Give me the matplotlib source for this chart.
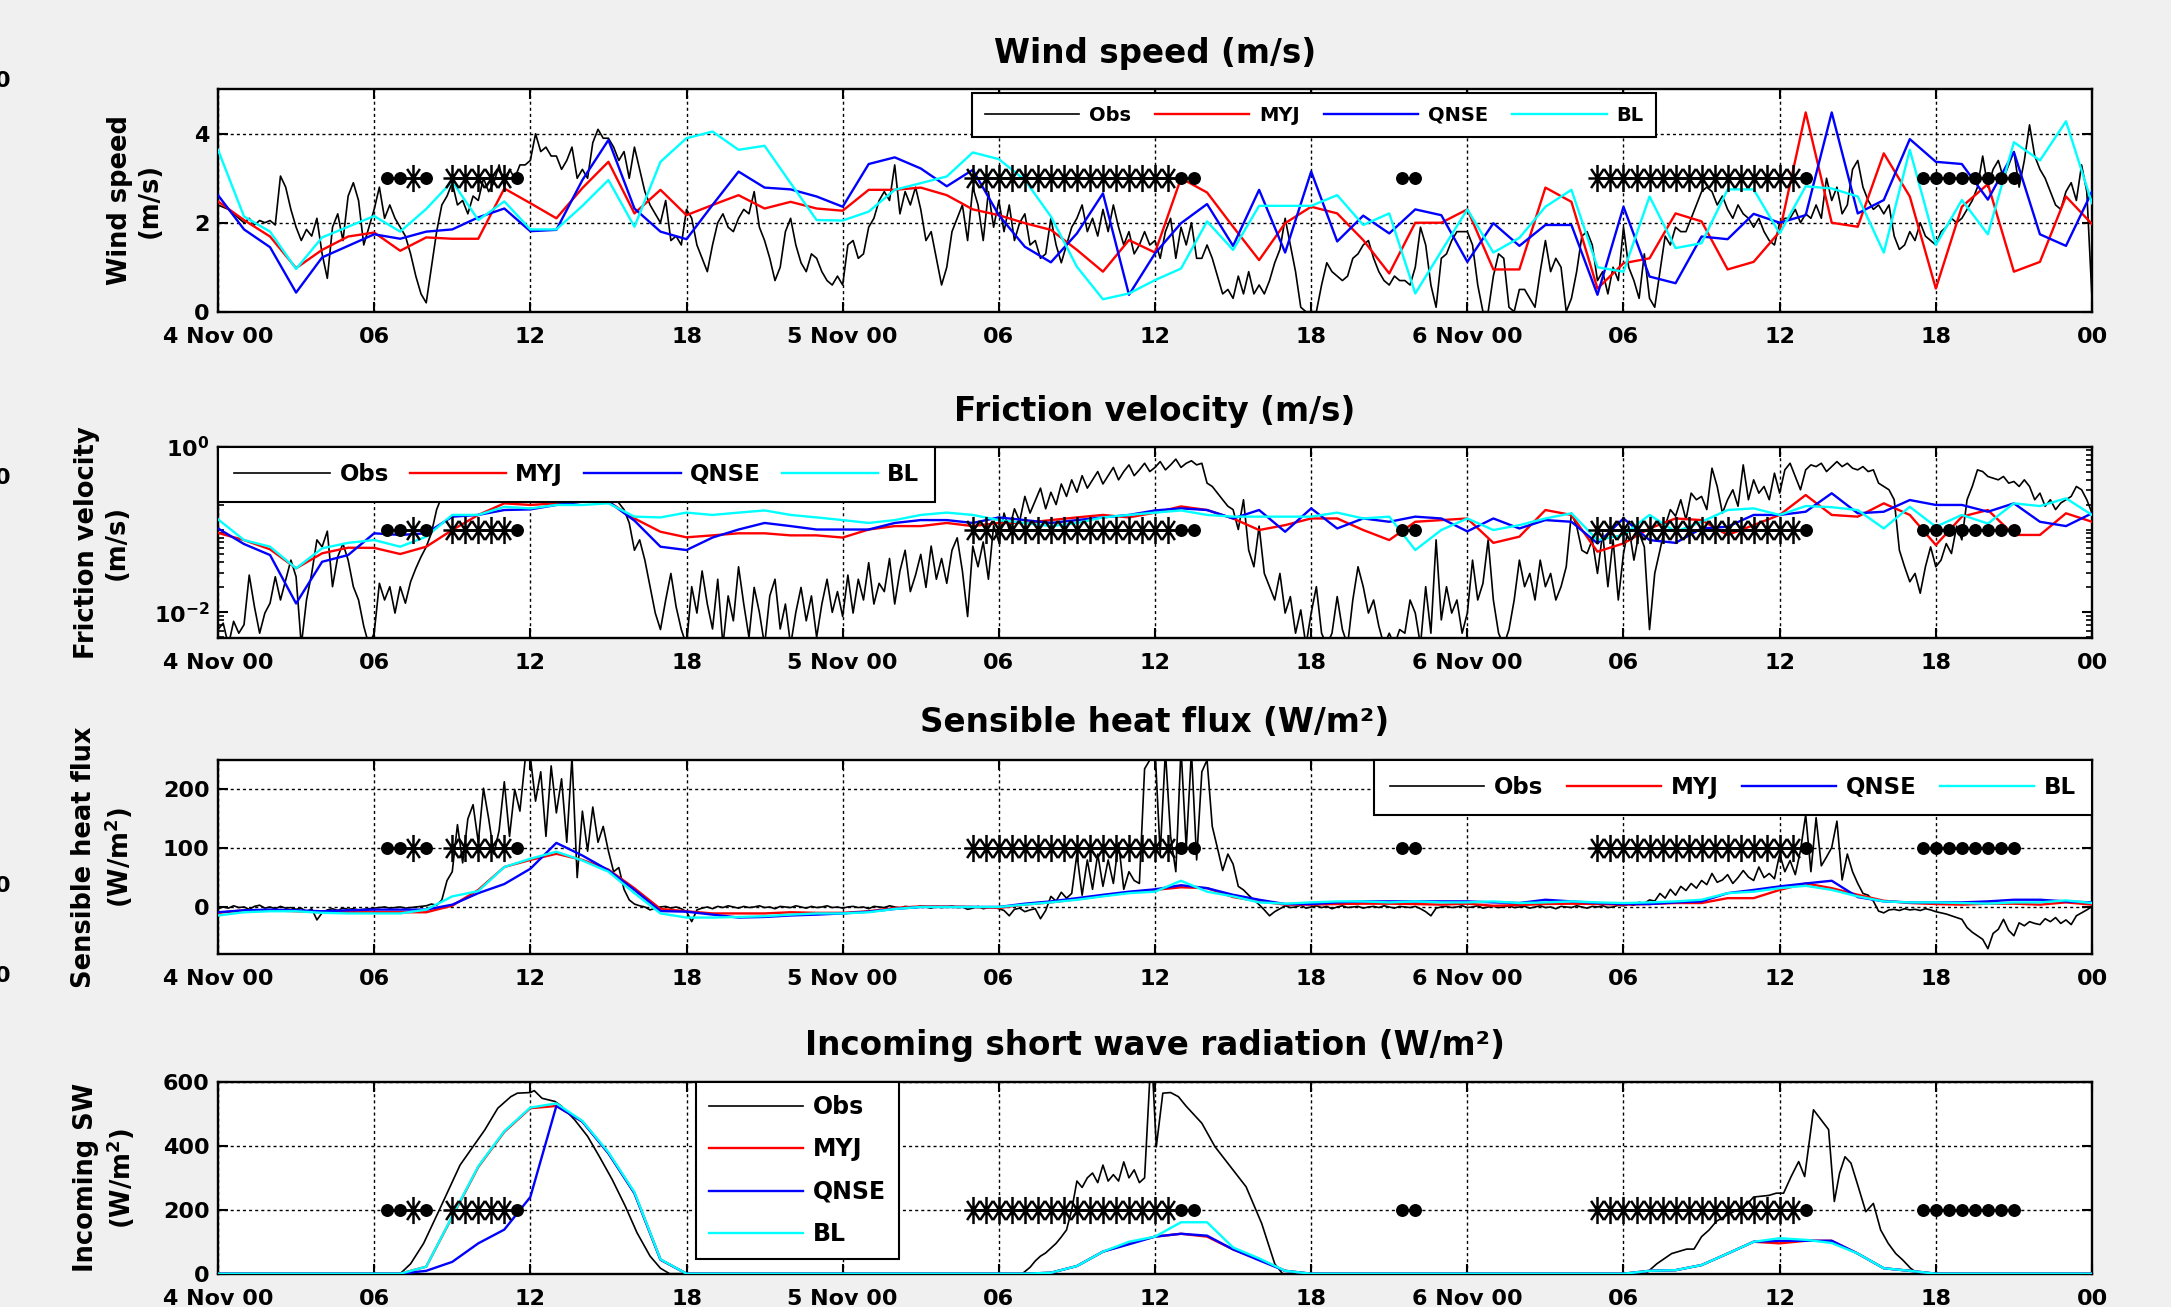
import numpy as np
import matplotlib
matplotlib.use("Agg")
import matplotlib.pyplot as plt
from matplotlib.path import Path
from matplotlib.ticker import FixedLocator, FixedFormatter, LogLocator, NullFormatter

# ------------------------------------------------------------------
# Time axes (hours since 4 Nov 00 UTC)
# ------------------------------------------------------------------
hours_model = np.arange(0, 73)                       # hourly model output
hours_obs = np.round(np.arange(0, 361) * 0.2, 1)     # 12-min observations

x_tick_hours = [0, 6, 12, 18, 24, 30, 36, 42, 48, 54, 60, 66, 72]
x_tick_labels = ["4 Nov 00", "06", "12", "18", "5 Nov 00", "06", "12", "18",
                 "6 Nov 00", "06", "12", "18", "00"]

series_names = ["Obs", "MYJ", "QNSE", "BL"]

# ------------------------------------------------------------------
# Wind speed (m/s)
# ------------------------------------------------------------------
wind_obs = [
    2.4, 2.35, 2.3, 2.2, 2.1, 2.0, 2.1, 1.95, 2.05, 2.0,
    2.05, 1.95, 3.05, 2.8, 2.3, 1.9, 1.6, 1.85, 1.7, 2.1,
    1.3, 0.75, 1.9, 2.2, 1.6, 2.6, 2.9, 2.5, 1.5, 1.9,
    2.3, 2.8, 2.1, 2.4, 2.1, 1.9, 1.7, 1.3, 0.8, 0.4,
    0.2, 1.0, 1.8, 2.4, 2.6, 2.9, 2.4, 2.5, 2.2, 2.6,
    2.5, 3.0, 2.7, 2.9, 3.3, 2.8, 3.2, 3.0, 3.3, 3.3,
    3.4, 4.0, 3.6, 3.7, 3.5, 3.5, 3.2, 3.4, 3.7, 3.0,
    3.2, 3.0, 3.8, 4.1, 3.9, 3.9, 3.7, 3.4, 3.6, 3.0,
    3.7, 3.2, 2.7, 2.4, 2.2, 2.0, 2.5, 1.6, 1.7, 1.5,
    2.3, 2.1, 1.5, 1.2, 0.9, 1.5, 2.0, 2.2, 1.9, 1.8,
    2.1, 2.3, 2.2, 2.7, 1.9, 1.6, 1.2, 0.7, 1.0, 1.8,
    2.1, 1.5, 1.1, 0.9, 1.3, 1.2, 0.9, 0.7, 0.6, 0.8,
    0.6, 1.5, 1.6, 1.2, 1.3, 1.9, 2.1, 2.5, 2.7, 2.5,
    3.3, 2.2, 2.7, 2.4, 2.8, 2.3, 1.6, 1.8, 1.2, 0.6,
    1.0, 1.8, 2.1, 2.4, 1.6, 2.8, 2.4, 1.6, 2.7, 1.9,
    2.5, 1.8, 2.4, 1.6, 2.0, 2.2, 1.5, 1.6, 1.2, 1.3,
    2.1, 1.5, 1.1, 1.5, 1.9, 2.1, 2.4, 1.8, 2.1, 1.7,
    2.3, 1.8, 2.4, 1.9, 1.5, 1.8, 1.3, 1.5, 1.8, 1.5,
    1.6, 1.2, 1.8, 2.1, 1.2, 1.9, 1.5, 2.0, 1.2, 1.2,
    1.5, 1.2, 0.8, 0.4, 0.5, 0.3, 0.8, 0.4, 0.9, 0.4,
    0.6, 0.4, 0.7, 1.1, 1.4, 2.1, 1.5, 0.9, 0.1, 0.0,
    0.0, 0.0, 0.6, 1.1, 0.9, 0.8, 0.7, 0.8, 1.2, 1.3,
    1.5, 1.6, 1.2, 0.9, 0.7, 0.6, 0.8, 0.7, 0.7, 0.6,
    1.0, 1.9, 1.5, 0.6, 0.1, 1.2, 1.3, 1.6, 1.8, 1.8,
    1.8, 1.5, 0.6, 0.0, 0.0, 0.8, 1.3, 1.2, 0.1, 0.0,
    0.5, 0.5, 0.3, 0.1, 0.9, 1.6, 0.9, 1.2, 1.0, 0.0,
    0.3, 0.9, 1.7, 1.8, 1.5, 0.7, 0.9, 0.4, 1.0, 0.7,
    1.9, 1.0, 0.7, 0.3, 1.3, 0.3, 0.1, 0.9, 1.7, 1.5,
    1.9, 1.8, 1.8, 2.1, 2.4, 2.7, 2.8, 2.7, 2.4, 2.6,
    2.3, 2.1, 2.4, 2.2, 2.1, 1.9, 2.1, 1.8, 1.6, 1.5,
    2.0, 2.1, 2.1, 2.3, 2.0, 2.2, 2.1, 2.4, 2.1, 3.0,
    2.5, 2.8, 2.2, 2.4, 3.2, 3.4, 2.8, 2.5, 2.3, 2.4,
    2.2, 2.4, 1.7, 1.4, 1.5, 1.8, 1.6, 2.0, 1.7, 1.6,
    1.5, 1.8, 1.9, 2.1, 2.0, 2.1, 2.3, 2.5, 2.8, 3.5,
    2.8, 3.2, 3.4, 3.0, 3.3, 3.6, 2.8, 3.4, 4.2, 3.5,
    3.2, 3.0, 2.7, 2.4, 2.3, 2.7, 2.9, 2.5, 3.3, 2.7,
    0.3,
]
wind_myj = [
    2.48, 2.06, 1.69, 0.98, 1.39, 1.69, 1.78, 1.37, 1.67, 1.64, 1.64, 2.77,
    2.44, 2.10, 2.78, 3.37, 2.21, 2.74, 2.17, 2.40, 2.62, 2.32, 2.47, 2.32,
    2.27, 2.74, 2.74, 2.79, 2.62, 2.30, 2.17, 1.99, 1.84, 1.39, 0.90, 1.61,
    1.33, 3.00, 2.68, 1.91, 1.16, 1.99, 2.36, 2.21, 1.61, 0.86, 2.00, 2.00,
    2.30, 0.95, 0.95, 2.79, 2.47, 0.52, 1.09, 1.20, 2.21, 2.03, 0.95, 1.12,
    1.80, 4.48, 2.00, 1.91, 3.56, 2.59, 0.52, 2.36, 2.87, 0.90, 1.12, 2.59,
    1.97,
]
wind_qnse = [
    2.62, 1.85, 1.45, 0.43, 1.22, 1.48, 1.74, 1.64, 1.80, 1.85, 2.12, 2.32,
    1.81, 1.84, 2.96, 3.86, 2.32, 1.80, 1.63, 2.40, 3.15, 2.79, 2.75, 2.59,
    2.36, 3.32, 3.47, 3.22, 2.82, 3.19, 2.17, 1.46, 1.11, 1.76, 2.66, 0.38,
    1.31, 1.99, 2.42, 1.48, 2.74, 1.33, 3.15, 1.58, 2.16, 1.76, 2.30, 2.17,
    1.12, 1.99, 1.48, 1.95, 1.95, 0.38, 2.36, 0.79, 0.64, 1.69, 1.63, 2.20,
    2.00, 2.17, 4.48, 2.21, 2.51, 3.88, 3.37, 3.32, 2.52, 3.59, 1.74, 1.48,
    2.70,
]
wind_bl = [
    3.64, 2.14, 1.80, 0.96, 1.67, 1.91, 2.15, 1.80, 2.31, 2.93, 2.06, 2.48,
    1.85, 1.85, 2.38, 2.96, 1.91, 3.37, 3.90, 4.05, 3.64, 3.73, 2.89, 2.06,
    2.05, 2.25, 2.74, 2.89, 3.04, 3.58, 3.43, 2.96, 2.14, 1.01, 0.28, 0.41,
    0.71, 0.97, 2.03, 1.39, 2.38, 2.38, 2.38, 2.62, 1.95, 2.21, 0.41, 1.36,
    2.30, 1.33, 1.66, 2.36, 2.74, 1.00, 0.90, 2.59, 1.43, 1.54, 2.75, 2.75,
    1.76, 2.82, 2.77, 2.59, 1.33, 3.64, 1.50, 2.51, 1.74, 3.81, 3.40, 4.28,
    2.44,
]

# ------------------------------------------------------------------
# Friction velocity (m/s)
# ------------------------------------------------------------------
ustar_obs = [
    0.0062, 0.0074, 0.004, 0.0078, 0.0056, 0.0071, 0.0282, 0.0117, 0.0056, 0.0098,
    0.0129, 0.0269, 0.0141, 0.0245, 0.0427, 0.0269, 0.004, 0.0141, 0.0295, 0.075,
    0.0617, 0.0955, 0.0204, 0.0468, 0.0676, 0.0427, 0.0204, 0.0141, 0.0068, 0.004,
    0.0056, 0.0224, 0.0141, 0.0204, 0.0098, 0.0204, 0.0129, 0.0234, 0.0339, 0.0468,
    0.0617, 0.0912, 0.174, 0.251, 0.275, 0.316, 0.355, 0.331, 0.38, 0.398,
    0.355, 0.417, 0.398, 0.447, 0.417, 0.479, 0.437, 0.501, 0.457, 0.501,
    0.525, 0.479, 0.501, 0.457, 0.501, 0.479, 0.447, 0.501, 0.468, 0.437,
    0.479, 0.417, 0.447, 0.398, 0.355, 0.316, 0.251, 0.209, 0.174, 0.12,
    0.0562, 0.075, 0.0427, 0.0204, 0.0098, 0.0062, 0.0141, 0.0295, 0.0117, 0.0062,
    0.004, 0.0204, 0.0098, 0.0316, 0.0126, 0.0063, 0.0251, 0.004, 0.0158, 0.0079,
    0.0355, 0.0126, 0.005, 0.02, 0.01, 0.004, 0.0158, 0.0251, 0.0063, 0.0126,
    0.004, 0.01, 0.02, 0.0079, 0.0158, 0.005, 0.0126, 0.0251, 0.01, 0.0178,
    0.0089, 0.0282, 0.0098, 0.0251, 0.0141, 0.0398, 0.0126, 0.0224, 0.0178, 0.0447,
    0.0126, 0.0316, 0.0562, 0.0178, 0.0282, 0.0501, 0.02, 0.0631, 0.0251, 0.0447,
    0.0224, 0.0562, 0.0794, 0.0316, 0.0089, 0.0631, 0.0355, 0.0708, 0.0251, 0.112,
    0.0708, 0.158, 0.1, 0.178, 0.126, 0.251, 0.158, 0.224, 0.316, 0.178,
    0.282, 0.2, 0.355, 0.251, 0.398, 0.282, 0.447, 0.316, 0.398, 0.501,
    0.355, 0.447, 0.562, 0.398, 0.501, 0.603, 0.447, 0.525, 0.631, 0.501,
    0.562, 0.661, 0.525, 0.603, 0.708, 0.562, 0.631, 0.676, 0.603, 0.631,
    0.363, 0.331, 0.275, 0.229, 0.191, 0.174, 0.1, 0.229, 0.0562, 0.0355,
    0.11, 0.0295, 0.0204, 0.0141, 0.0295, 0.0098, 0.0155, 0.0056, 0.0107, 0.004,
    0.0098, 0.0204, 0.0056, 0.004, 0.0056, 0.0155, 0.0062, 0.004, 0.0141, 0.0355,
    0.0204, 0.0098, 0.0141, 0.0068, 0.004, 0.0056, 0.004, 0.0062, 0.0056, 0.0141,
    0.0098, 0.004, 0.0204, 0.0056, 0.075, 0.0081, 0.0204, 0.0098, 0.0141, 0.0056,
    0.0098, 0.0427, 0.0141, 0.0224, 0.075, 0.0141, 0.0056, 0.004, 0.0062, 0.0141,
    0.0427, 0.0204, 0.0295, 0.0141, 0.0427, 0.0204, 0.0295, 0.0141, 0.0204, 0.0355,
    0.158, 0.11, 0.0562, 0.0513, 0.075, 0.0295, 0.0912, 0.0204, 0.075, 0.0141,
    0.0513, 0.11, 0.0427, 0.0912, 0.0617, 0.0062, 0.0295, 0.0562, 0.11, 0.174,
    0.145, 0.229, 0.132, 0.275, 0.229, 0.251, 0.174, 0.55, 0.331, 0.158,
    0.229, 0.302, 0.191, 0.603, 0.229, 0.398, 0.275, 0.331, 0.229, 0.479,
    0.275, 0.525, 0.631, 0.437, 0.302, 0.525, 0.603, 0.575, 0.631, 0.501,
    0.575, 0.661, 0.575, 0.631, 0.55, 0.525, 0.575, 0.501, 0.525, 0.363,
    0.331, 0.302, 0.229, 0.0562, 0.0355, 0.0234, 0.0295, 0.017, 0.0355, 0.0617,
    0.0355, 0.0427, 0.0676, 0.0513, 0.11, 0.075, 0.229, 0.331, 0.525, 0.501,
    0.437, 0.417, 0.398, 0.437, 0.363, 0.38, 0.331, 0.398, 0.331, 0.229,
    0.275, 0.191, 0.229, 0.174, 0.209, 0.229, 0.251, 0.331, 0.302, 0.229,
    0.158,
]
ustar_myj = [
    0.091, 0.0746, 0.0577, 0.034, 0.0516, 0.0603, 0.060, 0.0506, 0.062, 0.0986,
    0.150, 0.207, 0.198, 0.207, 0.217, 0.217, 0.136, 0.094, 0.0805, 0.085,
    0.09, 0.09, 0.085, 0.085, 0.08, 0.10, 0.11, 0.11, 0.12, 0.11,
    0.12, 0.12, 0.13, 0.14, 0.15, 0.14, 0.16, 0.19, 0.172, 0.136,
    0.0986, 0.113, 0.136, 0.136, 0.0986, 0.0746, 0.124, 0.130, 0.136, 0.069,
    0.082, 0.172, 0.15, 0.054, 0.068, 0.103, 0.136, 0.130, 0.086, 0.113,
    0.15, 0.261, 0.15, 0.143, 0.207, 0.15, 0.065, 0.143, 0.172, 0.086,
    0.086, 0.157, 0.124,
]
ustar_qnse = [
    0.103, 0.0668, 0.0492, 0.0128, 0.0408, 0.0492, 0.090, 0.086, 0.090, 0.143,
    0.150, 0.172, 0.175, 0.198, 0.217, 0.217, 0.128, 0.062, 0.0565, 0.08,
    0.10, 0.12, 0.11, 0.10, 0.10, 0.10, 0.12, 0.13, 0.13, 0.12,
    0.14, 0.13, 0.12, 0.13, 0.14, 0.15, 0.17, 0.18, 0.172, 0.136,
    0.172, 0.094, 0.18, 0.103, 0.136, 0.124, 0.143, 0.136, 0.095, 0.136,
    0.103, 0.130, 0.124, 0.068, 0.136, 0.0746, 0.069, 0.103, 0.108, 0.15,
    0.15, 0.164, 0.274, 0.157, 0.164, 0.227, 0.198, 0.198, 0.164, 0.207,
    0.124, 0.11, 0.157,
]
ustar_bl = [
    0.133, 0.0746, 0.062, 0.034, 0.0593, 0.069, 0.0746, 0.062, 0.0819, 0.150,
    0.15, 0.188, 0.18, 0.198, 0.198, 0.207, 0.143, 0.14, 0.16, 0.15,
    0.16, 0.17, 0.15, 0.14, 0.13, 0.12, 0.13, 0.15, 0.16, 0.15,
    0.13, 0.12, 0.11, 0.12, 0.14, 0.15, 0.16, 0.17, 0.15, 0.143,
    0.143, 0.143, 0.143, 0.16, 0.136, 0.143, 0.0565, 0.0986, 0.136, 0.0986,
    0.113, 0.136, 0.157, 0.0746, 0.086, 0.15, 0.094, 0.124, 0.172, 0.18,
    0.15, 0.192, 0.186, 0.172, 0.103, 0.188, 0.108, 0.15, 0.118, 0.207,
    0.192, 0.238, 0.15,
]

# ------------------------------------------------------------------
# Sensible heat flux (W/m2)
# ------------------------------------------------------------------
shf_obs = [
    -3, 0, -2, 2, -1, 0, -4, 1, 3, -2,
    0, -3, 1, -2, -1, -4, -2, -8, -3, -22,
    -10, -5, -3, -6, -2, -4, -3, -5, -4, -3,
    -2, -1, 0, -2, -1, 0, -2, -1, 0, 1,
    2, 5, 3, 12, 45, 60, 140, 75, 150, 174,
    110, 202, 150, 90, 130, 213, 120, 200, 163, 250,
    255, 180, 230, 120, 240, 160, 218, 110, 255, 50,
    163, 95, 170, 110, 137, 95, 60, 67, 30, 12,
    5, 2, 0, -5, -2, 0, 1, -2, 0, -3,
    -8, -25, -5, -2, 0, -3, 1, -1, 2, 0,
    -2, 1, -1, 0, 2, -1, 0, -3, 1, 0,
    -1, 2, 0, -2, 1, -1, 0, 2, -1, 0,
    -2, 0, 1, -1, 0, -3, 1, 0, -1, 2,
    0, -2, 1, 0, -1, 2, 0, -2, 1, -1,
    0, 2, -1, 0, -4, -2, 1, -3, -1, 0,
    -3, -6, -15, -4, -2, -8, -5, -3, -20, -6,
    18, 10, 25, 15, 23, 90, 20, 80, 30, 90,
    35, 80, 40, 109, 30, 60, 45, 40, 235, 250,
    270, 90, 265, 120, 60, 270, 100, 265, 80, 230,
    250, 137, 100, 62, 90, 73, 35, 29, 20, 12,
    4, -5, -15, -8, -3, 2, -1, 0, 3, -2,
    0, 2, -1, 1, -3, 0, 2, -1, 0, 1,
    -2, 0, 1, -1, 2, 0, -2, 1, 0, -1,
    1, -3, -8, -15, -2, 0, 1, -1, 0, 2,
    -1, 0, 2, -2, 0, 1, -1, 0, 2, -1,
    0, 1, -2, 0, 2, -1, 0, -3, 1, 0,
    -1, 2, 0, -2, 1, 0, 2, -1, 0, 3,
    2, 5, 3, 8, 6, 12, 10, 23, 15, 30,
    20, 35, 28, 40, 32, 45, 38, 57, 42, 46,
    55, 40, 50, 62, 51, 45, 68, 50, 57, 48,
    90, 60, 79, 55, 96, 157, 60, 152, 70, 85,
    101, 146, 46, 90, 60, 40, 23, 20, 10, -7,
    -10, -5, -4, -6, -3, -5, -4, -6, -3, -5,
    -8, -10, -12, -15, -18, -21, -35, -43, -49, -55,
    -71, -45, -38, -21, -40, -49, -27, -32, -25, -28,
    -30, -20, -25, -18, -28, -22, -30, -15, -10, -5,
    1,
]
shf_myj = [
    -10, -5.6, -5.6, -7.3, -9, -9, -9, -9, -9, 2.2, 29, 68,
    80, 90.5, 80, 63.6, 31.8, -3.4, -7.3, -11, -11, -11, -9, -10,
    -10, -7.3, -1.7, 1.1, 1, 0, -1.7, 4, 7.8, 13, 19, 24.6,
    29, 33.5, 32, 16.8, 9.5, 4, 4, 5, 5.6, 5.6, 5, 4,
    5.6, 2, 3.4, 5, 5.6, 5, 4, 5, 6.7, 6.7, 15, 15,
    29, 40, 32, 20.7, 10.6, 6.7, 5, 4, 5.6, 5.6, 4, 7.8,
    4,
]
shf_qnse = [
    -9, -5.6, -4.5, -5.6, -7.3, -5.6, -4.5, -4.5, -4.5, 3.9, 23.5, 39,
    65, 109, 87.5, 62.5, 29, -7, -8, -13, -18, -17, -14.5, -13,
    -11, -8, -3.4, 0, 0, 0, 0, 5.6, 9.5, 15, 20.7, 26,
    30, 37, 32, 20.7, 12.3, 5, 5, 7.8, 9.5, 9.5, 9.5, 9.5,
    9.5, 7.8, 6.7, 12.3, 9.5, 6.7, 5, 5, 7.8, 9.5, 23.5, 29,
    35, 40, 44.6, 16.8, 9.5, 7.8, 7.8, 7.8, 9.5, 12.3, 12.3, 9.5,
    7.8,
]
shf_bl = [
    -14.5, -9, -7.3, -7.3, -10, -11, -11, -11, -4.5, 18, 27, 68,
    82, 94, 79, 60, 23.5, -11, -18, -18, -17, -15.6, -13, -11,
    -11, -9, -3.4, 0, 0, 0, 0, 4, 7.8, 12.3, 18, 23.5,
    26, 44.6, 26, 18, 7.8, 5.6, 7.8, 9.5, 9.5, 7.8, 9.5, 7.8,
    7.8, 9.5, 6.7, 7.8, 9.5, 7.8, 6.7, 7.8, 9.5, 12.3, 23.5, 26,
    32, 36, 29, 18, 9.5, 7.8, 7.8, 6.7, 5.6, 7.8, 7.8, 11.2,
    6.7,
]

# ------------------------------------------------------------------
# Incoming short wave radiation (W/m2)
# ------------------------------------------------------------------
sw_obs_hours = [
    0, 7.0, 7.4, 7.9, 8.5, 9.3, 9.8, 10.25, 10.75, 11.25, 11.5, 12.0, 12.15,
    12.45, 12.95, 13.2, 13.7, 14.2, 14.65, 15.15, 15.65, 16.1, 16.6, 17.0, 17.35,
    30.9, 31.2, 31.4, 31.6, 31.8, 32.0, 32.2, 32.4, 32.6, 32.8, 33.0, 33.2, 33.4,
    33.6, 33.8, 34.0, 34.2, 34.4, 34.6, 34.8, 35.0, 35.2, 35.4, 35.6, 35.8, 35.9,
    36.05, 36.3, 36.6, 36.9, 37.2, 37.8, 38.3, 38.9, 39.5, 40.1, 40.6, 40.9,
    54.85, 55.28, 55.85, 56.43, 56.71, 57.0, 57.29, 57.57, 57.86, 58.14, 58.72,
    59.0, 59.58, 59.87, 60.15, 60.44, 60.73, 60.96, 61.3, 61.59, 61.88, 62.1,
    62.3, 62.51, 62.74, 63.02, 63.31, 63.6, 63.88, 64.17, 64.46, 64.74, 65.03,
    65.32, 72.0,
]
sw_obs = [
    0, 0, 31, 95, 199, 340, 398, 450, 518, 554, 565, 567, 573,
    549, 539, 524, 482, 430, 367, 294, 211, 128, 55, 17, 0,
    0, 20, 40, 55, 65, 80, 95, 115, 137, 200, 290, 270, 300,
    315, 285, 340, 290, 310, 290, 350, 300, 325, 285, 300, 610, 640,
    397, 565, 567, 554, 524, 471, 398, 335, 272, 157, 31, 0,
    0, 31, 63, 77, 77, 116, 137, 164, 178, 190, 215,
    240, 245, 252, 252, 304, 351, 304, 513, 482, 451, 226,
    314, 366, 346, 272, 194, 220, 137, 95, 63, 42, 17,
    0, 0,
]
sw_myj = [
    0, 0, 0, 0, 0, 0, 0, 0, 22, 178, 334, 444,
    518, 525, 476, 377, 252, 44, 0, 0, 0, 0, 0, 0,
    0, 0, 0, 0, 0, 0, 0, 0, 3, 24, 69, 95,
    116, 125, 116, 76, 45, 9, 0, 0, 0, 0, 0, 0,
    0, 0, 0, 0, 0, 0, 0, 9, 11, 27, 63, 100,
    95, 103, 103, 63, 17, 9, 0, 0, 0, 0, 0, 0,
    0,
]
sw_qnse = [
    0, 0, 0, 0, 0, 0, 0, 0, 9, 37, 95, 138,
    240, 525, 476, 377, 252, 44, 0, 0, 0, 0, 0, 0,
    0, 0, 0, 0, 0, 0, 0, 0, 3, 24, 69, 92,
    116, 125, 119, 76, 42, 9, 0, 0, 0, 0, 0, 0,
    0, 0, 0, 0, 0, 0, 0, 9, 11, 27, 63, 100,
    103, 103, 103, 63, 17, 9, 0, 0, 0, 0, 0, 0,
    0,
]
sw_bl = [
    0, 0, 0, 0, 0, 0, 0, 0, 22, 180, 336, 446,
    520, 533, 478, 380, 255, 45, 0, 0, 0, 0, 0, 0,
    0, 0, 0, 0, 0, 0, 0, 0, 3, 24, 69, 100,
    116, 161, 161, 82, 48, 9, 0, 0, 0, 0, 0, 0,
    0, 0, 0, 0, 0, 0, 0, 9, 11, 27, 63, 100,
    111, 106, 96, 63, 17, 9, 0, 0, 0, 0, 0, 0,
    0,
]

# ------------------------------------------------------------------
# Flagged periods (dots and asterisks drawn on every panel)
# ------------------------------------------------------------------
flag_dot_hours = [6.5, 7.0, 8.0, 11.5, 37.0, 37.5, 45.5, 46.0, 61.0,
                  65.5, 66.0, 66.5, 67.0, 67.5, 68.0, 68.5, 69.0]
flag_star_hours = [7.5, 9.0, 9.5, 10.0, 10.5, 11.0,
                   29.0, 29.5, 30.0, 30.5, 31.0, 31.5, 32.0, 32.5,
                   33.0, 33.5, 34.0, 34.5, 35.0, 35.5, 36.0, 36.5,
                   53.0, 53.5, 54.0, 54.5, 55.0, 55.5, 56.0, 56.5,
                   57.0, 57.5, 58.0, 58.5, 59.0, 59.5, 60.0, 60.5]

# ------------------------------------------------------------------
# Figure
# ------------------------------------------------------------------
plt.rcParams.update({
    "font.family": ["DejaVu Sans"],
    "font.weight": "bold",
    "mathtext.fontset": "dejavusans",
    "axes.linewidth": 1.7,
})

W, H = 2171, 1307
fig = plt.figure(figsize=(W / 100, H / 100), dpi=100, facecolor="#f0f0f0")

COLORS = ["black", "#ff0000", "#0000ff", "#00ffff"]
LWS = [1.2, 1.7, 1.7, 1.7]

# eight-armed asterisk, taller than wide
_verts, _codes = [], []
for ang in np.deg2rad(np.arange(0, 360, 45)):
    _verts += [(0.0, 0.0), (0.67 * np.cos(ang), np.sin(ang))]
    _codes += [Path.MOVETO, Path.LINETO]
ASTERISK = Path(_verts, _codes)


def axes_px(x0, x1, ytop, ybot):
    return fig.add_axes([x0 / W, 1 - ybot / H, (x1 - x0) / W, (ybot - ytop) / H])


def style_axes(ax, ygrid=True):
    ax.set_facecolor("white")
    ax.set_xlim(0, 72)
    ax.xaxis.set_major_locator(FixedLocator(x_tick_hours))
    ax.xaxis.set_major_formatter(FixedFormatter(x_tick_labels))
    ax.tick_params(axis="both", which="major", direction="in", length=7, width=1.5,
                   top=True, right=True, labelsize=16)
    ax.tick_params(axis="x", pad=11)
    ax.tick_params(axis="y", pad=6)
    ax.grid(True, axis="x", color="black", linestyle=(0, (2.2, 2.2)), linewidth=1.0)
    if ygrid:
        ax.grid(True, axis="y", color="black", linestyle=(0, (2.2, 2.2)), linewidth=1.0)
    ax.set_axisbelow(False)
    for lbl in ax.get_xticklabels() + ax.get_yticklabels():
        lbl.set_fontweight("bold")


def draw_series(ax, obs_t, obs_v, models):
    lines = [ax.plot(obs_t, obs_v, color=COLORS[0], lw=LWS[0], zorder=2)[0]]
    for i, m in enumerate(models, start=1):
        lines.append(ax.plot(hours_model, m, color=COLORS[i], lw=LWS[i], zorder=2 + i)[0])
    return lines


def draw_flags(ax, level):
    allh = sorted(flag_dot_hours + flag_star_hours)
    runs, cur = [], [allh[0]]
    for h in allh[1:]:
        if h - cur[-1] <= 0.51:
            cur.append(h)
        else:
            runs.append(cur)
            cur = [h]
    runs.append(cur)
    for r in runs:
        if len(r) > 1:
            ax.plot([r[0], r[-1]], [level, level], color="black", lw=1.8, zorder=6)
    ax.plot(flag_dot_hours, [level] * len(flag_dot_hours), linestyle="none",
            marker="o", ms=8.3, color="black", zorder=7)
    ax.plot(flag_star_hours, [level] * len(flag_star_hours), linestyle="none",
            marker=ASTERISK, ms=19.5, mew=1.8, color="black", zorder=7)


def add_legend(ax, handles, size, **kw):
    leg = ax.legend(handles, series_names, prop={"size": size, "weight": "bold"},
                    frameon=True, fancybox=False, framealpha=1, edgecolor="black",
                    facecolor="white", borderaxespad=0, **kw)
    leg.get_frame().set_linewidth(1.5)
    leg.set_zorder(20)
    return leg


def title_and_label(ax, title, ylabel, title_y, label_x):
    fig.text(1155 / W, 1 - title_y / H, title, ha="center", va="center",
             fontsize=23.5, fontweight="bold")
    bb = ax.get_position()
    fig.text(label_x / W, bb.y0 + bb.height / 2, ylabel, rotation=90, ha="center",
             va="center", ma="center", fontsize=18.5, fontweight="bold",
             linespacing=1.2)


# --- Wind speed ---
ax1 = axes_px(218, 2092, 89.3, 311.7)
style_axes(ax1)
h1 = draw_series(ax1, hours_obs, wind_obs, [wind_myj, wind_qnse, wind_bl])
draw_flags(ax1, 3)
ax1.set_ylim(0, 5)
ax1.set_yticks([0, 2, 4])
ax1.set_yticklabels(["0", "2", "4"], fontweight="bold")
add_legend(ax1, h1, 14, loc="upper left", bbox_to_anchor=(0.4023, 0.983), ncol=4,
           handlelength=4.85, handletextpad=0.5, columnspacing=1.25, borderpad=0.65)
title_and_label(ax1, "Wind speed (m/s)", "Wind speed\n(m/s)", 53, 135)

# --- Friction velocity ---
ax2 = axes_px(218, 2092, 446.7, 638)
ax2.set_yscale("log")
style_axes(ax2, ygrid=False)
h2 = draw_series(ax2, hours_obs, ustar_obs, [ustar_myj, ustar_qnse, ustar_bl])
draw_flags(ax2, 0.1)
ax2.set_ylim(0.0049, 1.0)
ax2.yaxis.set_major_locator(FixedLocator([0.01, 1.0]))
ax2.yaxis.set_major_formatter(FixedFormatter([r"$\mathbf{10^{-2}}$", r"$\mathbf{10^{0}}$"]))
ax2.yaxis.set_minor_locator(LogLocator(base=10, subs=np.arange(1, 10), numticks=20))
ax2.yaxis.set_minor_formatter(NullFormatter())
ax2.tick_params(axis="y", which="minor", direction="in", length=4, width=1.2,
                left=True, right=True)
add_legend(ax2, h2, 16.5, loc="upper left", bbox_to_anchor=(0.0, 1.0), ncol=4,
           handlelength=4.2, handletextpad=0.4, columnspacing=0.92, borderpad=0.7)
title_and_label(ax2, "Friction velocity (m/s)", "Friction velocity\n(m/s)", 411, 102)

# --- Sensible heat flux ---
ax3 = axes_px(218, 2092, 760, 954)
style_axes(ax3)
h3 = draw_series(ax3, hours_obs, shf_obs, [shf_myj, shf_qnse, shf_bl])
draw_flags(ax3, 100)
ax3.set_ylim(-80, 250)
ax3.set_yticks([0, 100, 200])
ax3.set_yticklabels(["0", "100", "200"], fontweight="bold")
add_legend(ax3, h3, 16.5, loc="upper right", bbox_to_anchor=(1.0, 1.0), ncol=4,
           handlelength=4.1, handletextpad=0.45, columnspacing=1.0, borderpad=0.7)
title_and_label(ax3, "Sensible heat flux (W/m²)", "Sensible heat flux\n(W/m$\\mathbf{^2}$)",
                722, 103)

# --- Incoming short wave radiation ---
ax4 = axes_px(218, 2092, 1082, 1273.7)
style_axes(ax4)
h4 = draw_series(ax4, sw_obs_hours, sw_obs, [sw_myj, sw_qnse, sw_bl])
draw_flags(ax4, 200)
ax4.set_ylim(0, 600)
ax4.set_yticks([0, 200, 400, 600])
ax4.set_yticklabels(["0", "200", "400", "600"], fontweight="bold")
add_legend(ax4, h4, 17, loc="upper left", bbox_to_anchor=(0.255, 1.0), ncol=1,
           handlelength=4.0, handletextpad=0.42, labelspacing=0.78, borderpad=0.55)
title_and_label(ax4, "Incoming short wave radiation (W/m²)", "Incoming SW\n(W/m$\\mathbf{^2}$)",
                1045, 105)

# clipped tick labels of the neighbouring column at the left margin
for yy in (81, 478, 886, 976):
    fig.text(11 / W, 1 - yy / H, "0", ha="right", va="center", fontsize=16,
             fontweight="bold")

fig.savefig("out.png", dpi=100, facecolor=fig.get_facecolor())
